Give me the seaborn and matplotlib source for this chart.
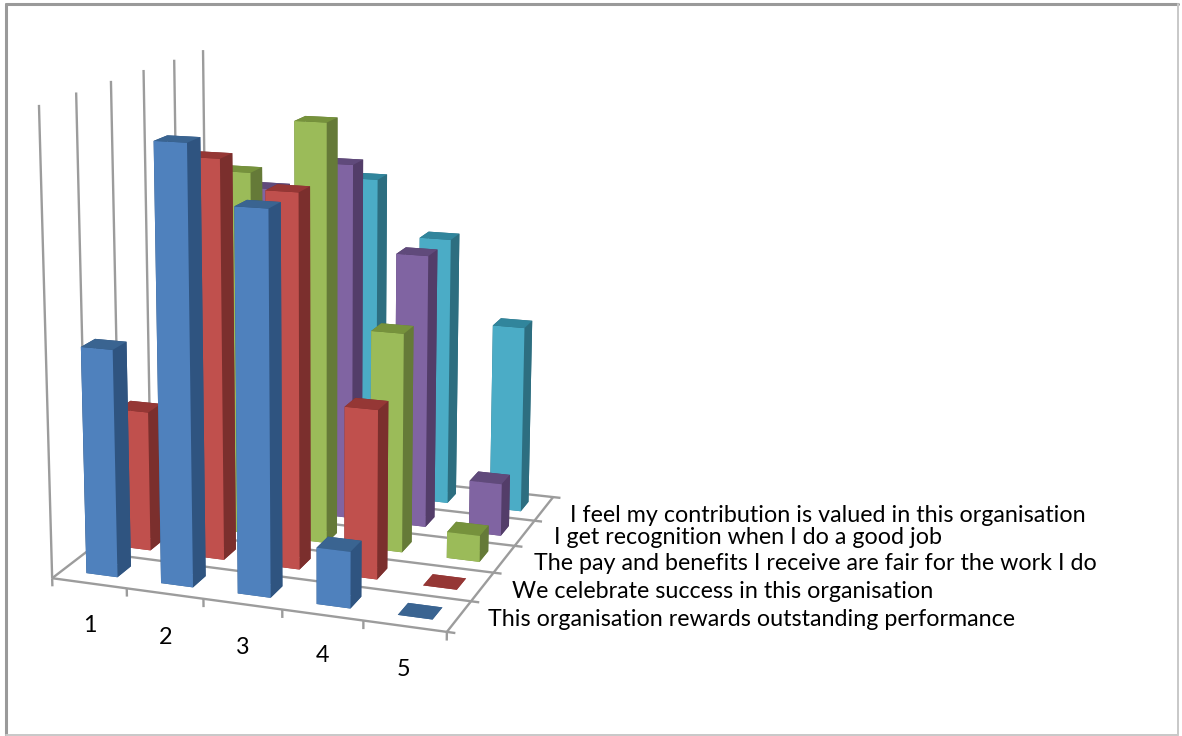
import numpy as np
import matplotlib
matplotlib.use("Agg")
import matplotlib.pyplot as plt
from matplotlib.lines import Line2D
import seaborn as sns

categories = ["1", "2", "3", "4", "5"]
series_names = [
    "This organisation rewards outstanding performance",
    "We celebrate success in this organisation",
    "The pay and benefits I receive are fair for the work I do",
    "I get recognition when I do a good job",
    "I feel my contribution is valued in this organisation",
]
rewards = [24.6, 46.5, 40.4, 6.0, 0.0]
celebrate = [15.5, 43.4, 40.4, 18.3, 0.0]
pay = [2.0, 40.4, 46.2, 24.2, 2.9]
recognition = [0.0, 37.0, 40.2, 30.7, 5.9]
valued = [3.0, 25.0, 37.0, 30.7, 21.3]
series_values = [rewards, celebrate, pay, recognition, valued]

front_colors = ["#4F81BD", "#C0504D", "#9BBB59", "#8064A2", "#4BACC6"]
side_colors = ["#2F5480", "#7B2F2D", "#657A38", "#533D69", "#2D6E80"]
top_colors = ["#3A6491", "#953735", "#76923C", "#604A7B", "#31859C"]

AXIS_MAX = 50.0
BAR_W = 0.42
BAR_D = 0.40
BAR_CENTRE = 0.53
WIDTH, HEIGHT = 1182, 736

sns.set_theme(style="white")
plt.rcParams["font.family"] = ["Lato", "DejaVu Sans"]

# Camera: solve a projective matrix from where the plot box corners sit on the canvas.
box_world = np.array([[0, 0, 0], [5, 0, 0], [5, 5, 0], [0, 5, 0],
                      [0, 0, AXIS_MAX], [0, 5, AXIS_MAX]], float)
box_canvas = np.array([[52, 578], [447, 632], [553, 497], [208, 459],
                       [39, 105], [203, 50]], float)
rows = []
for (X, Y, Z), (u, v) in zip(box_world, box_canvas):
    rows.append([X, Y, Z, 1, 0, 0, 0, 0, -u * X, -u * Y, -u * Z, -u])
    rows.append([0, 0, 0, 0, X, Y, Z, 1, -v * X, -v * Y, -v * Z, -v])
camera = np.linalg.svd(np.array(rows))[2][-1].reshape(3, 4)
if camera[2] @ np.array([0, 0, 0, 1.0]) < 0:
    camera = -camera
near_w = camera[2, 3]

fig = plt.figure(figsize=(WIDTH / 100, HEIGHT / 100), dpi=100, facecolor="white")
side = WIDTH / HEIGHT
ax = fig.add_axes([0, (1 - side) / 2, 1, side], projection="3d", computed_zorder=False)
ax.set_axis_off()
ax.patch.set_alpha(0)


def canvas_projection():
    inv = ax.transData.inverted()
    x0, y0 = inv.transform((0, HEIGHT))
    x1, y1 = inv.transform((WIDTH, 0))
    to_view = np.array([[(x1 - x0) / WIDTH, 0, 0, x0],
                        [0, (y1 - y0) / HEIGHT, 0, y0],
                        [0, 0, 1, 0],
                        [0, 0, 0, 1.0]])
    # Depth stays negative and grows with distance, as mplot3d expects.
    depth_row = np.array([0, 0, 0, -0.5 * near_w])
    return to_view @ np.vstack([camera[0], camera[1], depth_row, camera[2]])


ax.get_proj = canvas_projection

GRID = "#9C9C9C"


def rule(xs, ys, zs, lw=1.7):
    ax.plot(xs, ys, zs, color=GRID, lw=lw, zorder=1, solid_capstyle="butt", clip_on=False)


# Floor lines, ticks and the upright rules along the left wall.
for j in range(6):
    rule([0, 5.1], [j, j], [0, 0])
    rule([0, 0], [j, j], [0, AXIS_MAX])
rule([0, 0], [0, 5], [0, 0])
rule([5, 5], [0, 5], [0, 0])
for i in range(6):
    rule([i, i], [0, 0], [0, -0.9])

# Bars, back row first so the nearer ones paint over them.
z = 2
for j in range(len(series_values) - 1, -1, -1):
    for i, value in enumerate(series_values[j]):
        faces = [top_colors[j], top_colors[j], front_colors[j],
                 side_colors[j], side_colors[j], side_colors[j]]
        bars = ax.bar3d(i + BAR_CENTRE - BAR_W / 2, j + 0.5 - BAR_D / 2, 0, BAR_W, BAR_D, value,
                        color=faces, shade=False, zorder=z, linewidth=0)
        bars.set_clip_on(False)
        z += 1

# Category and series labels.
cat_pos = [(90, 626), (166, 637), (243, 647), (323, 656), (404, 669)]
for label, (px, py) in zip(categories, cat_pos):
    fig.text(px / WIDTH, 1 - py / HEIGHT, label, ha="center", va="center", fontsize=16.8, color="black")
ser_pos = [(488, 620), (512, 591), (534, 564), (554, 538), (570, 515)]
for label, (px, py) in zip(series_names, ser_pos):
    fig.text(px / WIDTH, 1 - py / HEIGHT, label, ha="left", va="center", fontsize=16.75, color="black")

# Chart area frame.
frame = [((6, 6), (735, 4), "#9A9A9A", 2.2), ((6, 1178), (4, 4), "#9A9A9A", 2.2),
         ((1178, 1178), (4, 735), "#C8C8C8", 1.4), ((6, 1178), (735, 735), "#C8C8C8", 1.4)]
for xs, ys, col, lw in frame:
    fig.add_artist(Line2D([x / WIDTH for x in xs], [1 - y / HEIGHT for y in ys],
                          color=col, lw=lw, transform=fig.transFigure))

fig.savefig("out.png", dpi=100, facecolor="white")
